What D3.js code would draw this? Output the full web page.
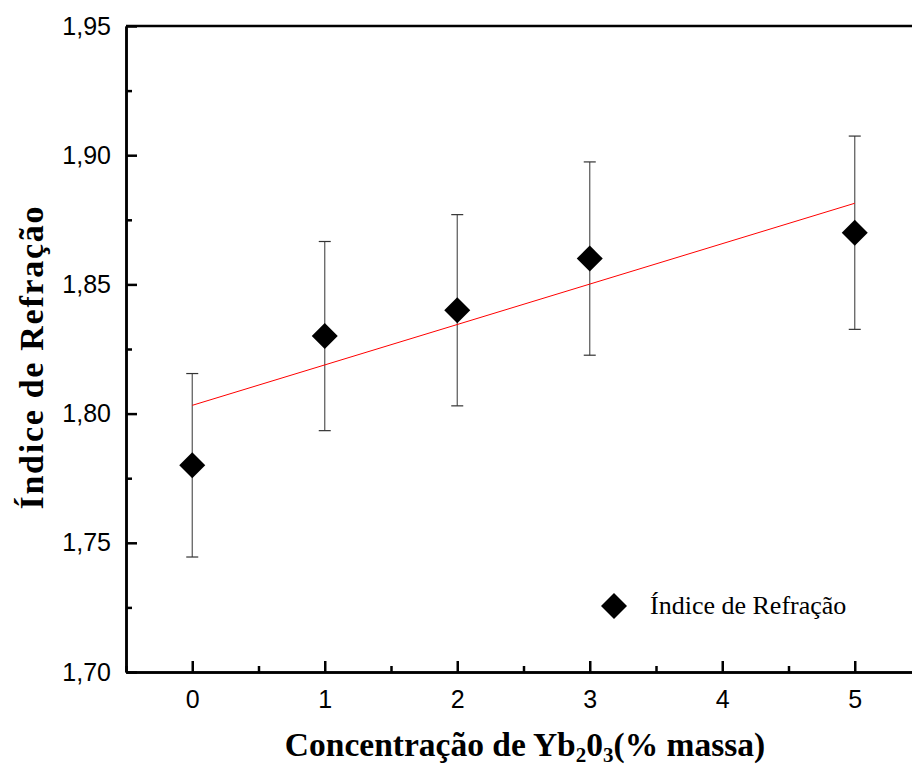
<!DOCTYPE html>
<html lang="en">
<head>
    <meta charset="UTF-8">
    <title>Indice de Refracao</title>
    <script src="https://d3js.org/d3.v7.min.js"></script>
    <style>
        body {margin:0;background:#fff}
        svg {display:block}
    </style>
</head>
<body>
    <div id="chart"></div>
    <script>
        // concentration of Yb2O3 (% massa) and refractive index
        var conc = [0, 1, 2, 3, 5];
        var indice = [1.78, 1.83, 1.84, 1.86, 1.87];
        var erro = [0.0355, 0.0366, 0.037, 0.0374, 0.0374];
        // linear fit, read at the ends
        var fitX = [0, 5];
        var fitY = [1.8032, 1.8814];
        var xTicks = [0, 1, 2, 3, 4, 5];
        var xMinor = [-0.5, 0.5, 1.5, 2.5, 3.5, 4.5, 5.5];
        var yTicks = [1.70, 1.75, 1.80, 1.85, 1.90, 1.95];
        var yMinor = [1.725, 1.775, 1.825, 1.875, 1.925];

        var W = 912, H = 769;
        var margin = { top: 26, left: 126 };
        var w = 795, h = 646;

        var svg = d3.select("#chart").append("svg")
            .attr("width", W)
            .attr("height", H);
        var g = svg.append("g")
            .attr("transform", `translate(${margin.left},${margin.top})`);

        var x = d3.scaleLinear().domain([-0.5, 5.5]).range([0, w]);
        var y = d3.scaleLinear().domain([1.70, 1.95]).range([h, 0]);

        var fmt = d => d3.format(".2f")(d).replace(".", ",");

        // frame top/right
        g.append("line").attr("x1", 0).attr("x2", w).attr("y1", 0).attr("y2", 0)
            .attr("stroke", "#000").attr("stroke-width", 2.5);
        g.append("line").attr("x1", w).attr("x2", w).attr("y1", 0).attr("y2", h)
            .attr("stroke", "#000").attr("stroke-width", 2.5);

        // x axis
        var xAx = g.append("g").attr("transform", `translate(0,${h})`)
            .call(d3.axisBottom(x).tickValues(xTicks).tickFormat(d3.format("d"))
                .tickSizeInner(-11).tickSizeOuter(0).tickPadding(18));
        var xMin = g.append("g").attr("transform", `translate(0,${h})`)
            .call(d3.axisBottom(x).tickValues(xMinor).tickFormat("")
                .tickSizeInner(-6).tickSizeOuter(0));

        // y axis
        var yAx = g.append("g")
            .call(d3.axisLeft(y).tickValues(yTicks).tickFormat(fmt)
                .tickSizeInner(-11).tickSizeOuter(0).tickPadding(15));
        var yMin = g.append("g")
            .call(d3.axisLeft(y).tickValues(yMinor).tickFormat("")
                .tickSizeInner(-6).tickSizeOuter(0));

        [xAx, xMin, yAx, yMin].forEach(function(a) {
            a.select(".domain").attr("stroke-width", 2.5);
            a.selectAll(".tick line").attr("stroke-width", 2.5);
            a.selectAll(".tick text")
                .attr("font-family", "'Liberation Sans', Arial, sans-serif")
                .attr("font-size", "25px")
                .attr("fill", "#000");
        });

        // error bars
        var bars = g.selectAll(".err").data(conc).enter().append("g").attr("class", "err");
        bars.append("line")
            .attr("x1", (d, i) => x(d)).attr("x2", (d, i) => x(d))
            .attr("y1", (d, i) => y(indice[i] + erro[i]))
            .attr("y2", (d, i) => y(indice[i] - erro[i]))
            .attr("stroke", "#555").attr("stroke-width", 1.2);
        bars.append("line")
            .attr("x1", (d, i) => x(d) - 6).attr("x2", (d, i) => x(d) + 6)
            .attr("y1", (d, i) => y(indice[i] + erro[i]))
            .attr("y2", (d, i) => y(indice[i] + erro[i]))
            .attr("stroke", "#333").attr("stroke-width", 1.2);
        bars.append("line")
            .attr("x1", (d, i) => x(d) - 6).attr("x2", (d, i) => x(d) + 6)
            .attr("y1", (d, i) => y(indice[i] - erro[i]))
            .attr("y2", (d, i) => y(indice[i] - erro[i]))
            .attr("stroke", "#333").attr("stroke-width", 1.2);

        // fit line
        g.append("line")
            .attr("x1", x(fitX[0])).attr("y1", y(fitY[0]))
            .attr("x2", x(fitX[1])).attr("y2", y(fitY[1]))
            .attr("stroke", "#ff0000").attr("stroke-width", 1);

        // diamonds
        var diamond = d3.symbol().type(d3.symbolSquare).size(338);
        g.selectAll(".pt").data(conc).enter().append("path")
            .attr("class", "pt")
            .attr("d", diamond)
            .attr("transform", (d, i) => `translate(${x(d)},${y(indice[i])}) rotate(45)`)
            .attr("fill", "#000");

        // legend
        svg.append("path")
            .attr("d", diamond)
            .attr("transform", "translate(614,606) rotate(45)")
            .attr("fill", "#000");
        svg.append("text")
            .attr("x", 650).attr("y", 614)
            .attr("font-family", "'Liberation Serif', 'Times New Roman', serif")
            .attr("font-size", "26px")
            .text("Índice de Refração");

        // axis titles
        var xt = svg.append("text")
            .attr("x", 525).attr("y", 756)
            .attr("text-anchor", "middle")
            .attr("font-family", "'Liberation Serif', 'Times New Roman', serif")
            .attr("font-weight", "bold")
            .attr("font-size", "33.5px");
        xt.append("tspan").text("Concentração de Yb");
        xt.append("tspan").attr("font-size", "21px").attr("dy", 6).text("2");
        xt.append("tspan").attr("dy", -6).text("0");
        xt.append("tspan").attr("font-size", "21px").attr("dy", 6).text("3");
        xt.append("tspan").attr("dy", -6).text("(% massa)");

        svg.append("text")
            .attr("transform", "translate(43,358) rotate(-90)")
            .attr("text-anchor", "middle")
            .attr("font-family", "'Liberation Serif', 'Times New Roman', serif")
            .attr("font-weight", "bold")
            .attr("font-size", "34px")
            .attr("textLength", 303)
            .text("Índice de Refração");
    </script>
</body>
</html>
